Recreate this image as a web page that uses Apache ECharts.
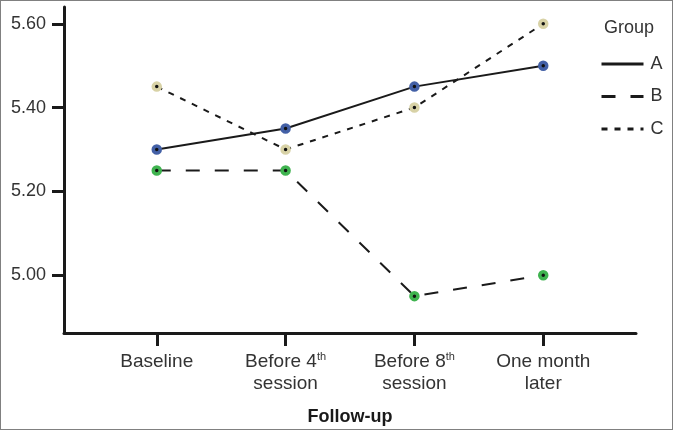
<!DOCTYPE html>
<html>
<head>
<meta charset="utf-8">
<script src="https://cdn.jsdelivr.net/npm/echarts@6/dist/echarts.min.js"></script>
<style>
  html, body { margin: 0; padding: 0; background: #fff; }
  #chart { width: 673px; height: 430px; box-sizing: border-box; border: 1px solid #808080; }
</style>
</head>
<body>
<div id="chart"></div>
<script>
const categories = ["Baseline", "Before 4{sup|th}\nsession", "Before 8{sup|th}\nsession", "One month\nlater"];
const yTicks = [5.0, 5.2, 5.4, 5.6];
const groupA = [5.30, 5.35, 5.45, 5.50];
const groupB = [5.25, 5.25, 4.95, 5.00];
const groupC = [5.45, 5.30, 5.40, 5.60];

const font = "'Liberation Sans', Arial, sans-serif";
const ink = "#1a1a1a";
const textColor = "#333";

const chart = echarts.init(document.getElementById("chart"));

const makeSeries = (name, values, dash, markerColor) => ({
  name,
  type: "line",
  data: values.map((v, i) => [i, v]),
  symbol: "circle",
  symbolSize: 7,
  lineStyle: { color: ink, width: 2, type: dash },
  itemStyle: { color: "#111", borderColor: markerColor, borderWidth: 3.5 },
  emphasis: { disabled: true }
});

chart.setOption({
  animation: false,
  title: {
    text: "Group",
    left: 598,
    top: 13,
    textStyle: { fontFamily: font, fontSize: 18, fontWeight: "normal", color: textColor }
  },
  legend: {
    orient: "vertical",
    left: 594,
    top: 49,
    itemWidth: 42,
    itemHeight: 14,
    itemGap: 14.5,
    itemStyle: { color: "transparent", borderColor: "transparent", borderWidth: 0 },
    lineStyle: { width: 3 },
    textStyle: { fontFamily: font, fontSize: 18, color: textColor, padding: [0, 0, 0, 2] },
    data: ["A", "B", "C"]
  },
  grid: { left: 63, right: 36, top: 6, bottom: 96, containLabel: false, outerBoundsMode: "none" },
  xAxis: {
    type: "value",
    min: -0.72,
    max: 3.72,
    splitLine: { show: false },
    axisLine: { onZero: false, lineStyle: { color: ink, width: 3 } },
    axisTick: { customValues: [0, 1, 2, 3], length: 13, lineStyle: { color: ink, width: 3 } },
    axisLabel: {
      customValues: [0, 1, 2, 3],
      margin: 18,
      formatter: (v) => categories[v],
      fontFamily: font,
      fontSize: 19,
      lineHeight: 22,
      color: textColor,
      rich: { sup: { fontFamily: font, fontSize: 11, verticalAlign: "top", color: textColor } }
    },
    name: "Follow-up",
    nameLocation: "middle",
    nameGap: 75,
    nameTextStyle: { fontFamily: font, fontSize: 18, fontWeight: "bold", color: ink }
  },
  yAxis: {
    type: "value",
    min: 4.862,
    max: 5.64,
    splitLine: { show: false },
    axisLine: { show: true, onZero: false, lineStyle: { color: ink, width: 3 } },
    axisTick: { show: true, customValues: yTicks, length: 12, lineStyle: { color: ink, width: 3 } },
    axisLabel: {
      customValues: yTicks,
      margin: 18,
      formatter: (v) => v.toFixed(2),
      fontFamily: font,
      fontSize: 18,
      color: textColor
    }
  },
  series: [
    makeSeries("A", groupA, "solid", "#4360a6"),
    makeSeries("B", groupB, [14, 15], "#3fb34f"),
    makeSeries("C", groupC, [6, 7], "#d8d2a6")
  ]
});
</script>
</body>
</html>
